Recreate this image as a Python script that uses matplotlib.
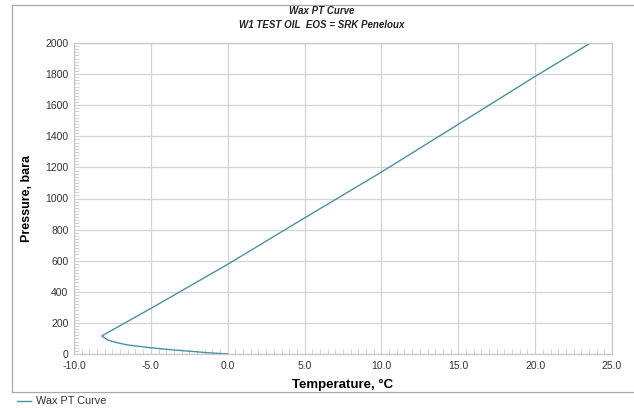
import matplotlib
matplotlib.use("Agg")
import matplotlib.pyplot as plt
from matplotlib.lines import Line2D
from matplotlib.ticker import MultipleLocator, FormatStrFormatter

plt.rcParams['font.family'] = ['Liberation Sans', 'DejaVu Sans']

# Wax PT curve (low pressure branch first)
temperature = [0.0, -1.0, -2.0, -3.5, -5.0, -6.5, -7.3, -7.8, -8.2,
               -5.0, 0.0, 5.0, 10.0, 15.0, 20.0, 23.6]
pressure = [1, 6, 14, 26, 40, 58, 75, 90, 116,
            293, 577, 875, 1170, 1477, 1785, 2000]

x_ticks = [-10, -5, 0, 5, 10, 15, 20, 25]
y_ticks = [0, 200, 400, 600, 800, 1000, 1200, 1400, 1600, 1800, 2000]

W, H = 634, 408
fig = plt.figure(figsize=(W / 100, H / 100), dpi=100)
ax = fig.add_axes([74 / W, 1 - 354 / H, (612 - 74) / W, (354 - 43) / H])

line_col = '#4a919f'
ax.plot(temperature, pressure, color=line_col, linewidth=1.0)

ax.set_xlim(-10, 25)
ax.set_ylim(0, 2000)
ax.set_xticks(x_ticks)
ax.set_yticks(y_ticks)
ax.xaxis.set_major_formatter(FormatStrFormatter('%.1f'))
ax.xaxis.set_minor_locator(MultipleLocator(0.5))
ax.yaxis.set_minor_locator(MultipleLocator(20))

ax.grid(True, which='major', color='#d4d4d4', linewidth=0.9)
ax.set_axisbelow(True)
for s in ax.spines.values():
    s.set_color('#c8c8c8')
    s.set_linewidth(0.9)

ax.tick_params(which='major', length=0, labelsize=7.5, labelcolor='#333333')
ax.tick_params(axis='x', which='major', pad=5)
ax.tick_params(axis='y', which='major', pad=4)
ax.tick_params(which='minor', direction='in', length=3.5, color='#cccccc', width=0.6)

ax.set_xlabel("Temperature, °C", fontsize=9.5, fontweight='bold', labelpad=6)
ax.set_ylabel("Pressure, bara", fontsize=9, fontweight='bold', labelpad=9)

# title lines
fig.text(322 / W, 1 - 11 / H, "Wax PT Curve", ha='center', va='center',
         fontsize=7, fontweight='bold', fontstyle='italic', color='#222222')
fig.text(322 / W, 1 - 25 / H, "W1 TEST OIL  EOS = SRK Peneloux", ha='center', va='center',
         fontsize=7, fontweight='bold', fontstyle='italic', color='#222222')

# frame lines
frame_col = '#a8a8a8'
fig.add_artist(Line2D([12 / W, 12 / W], [1 - 5 / H, 1 - 392 / H], color=frame_col, linewidth=0.9))
fig.add_artist(Line2D([12 / W, 1.0], [1 - 5 / H, 1 - 5 / H], color=frame_col, linewidth=0.9))
fig.add_artist(Line2D([12 / W, 1.0], [1 - 392 / H, 1 - 392 / H], color=frame_col, linewidth=0.9))

# legend below the frame
fig.add_artist(Line2D([17 / W, 31 / W], [1 - 401 / H, 1 - 401 / H], color=line_col, linewidth=1.0))
fig.text(36 / W, 1 - 401 / H, "Wax PT Curve", ha='left', va='center', fontsize=7.8, color='#333333')

fig.savefig("out.png", dpi=100)
